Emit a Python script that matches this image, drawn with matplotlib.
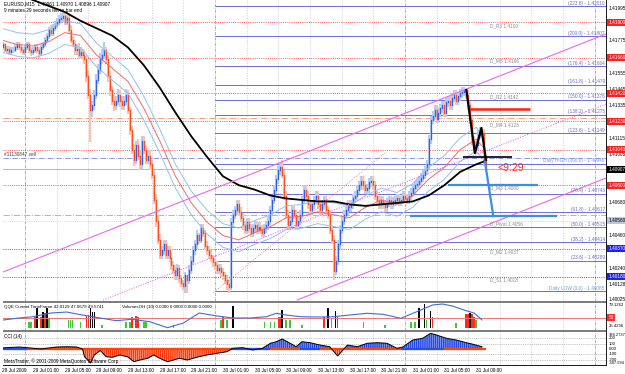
import matplotlib
matplotlib.use("Agg")
import matplotlib.pyplot as plt
from matplotlib.patches import Rectangle

W, H = 625, 374
plt.rcParams["font.family"] = ["Liberation Sans", "DejaVu Sans"]
plt.rcParams["hatch.linewidth"] = 0.45
FS = 3.4

UP, DOWN = "#2F5FE8", "#FF4C1C"
UP_PALE, DOWN_PALE = "#B6CCF6", "#F8C2B0"

# M15 bars numbered from 30 Jul 2009 00:00 (bar 0); prices in pips above 1.40000
first_bar = -107
first_open = 173
closes = [
    175, 171, 172, 170, 171, 171, 173, 175, 173, 171,
    170, 173, 175, 171, 170, 171, 173, 171, 169, 173,
    175, 178, 181, 185, 183, 186, 188, 190, 192, 193,
    194, 190, 193, 185, 178, 175, 171, 172, 168, 170,
    168, 165, 154, 141, 131, 134, 141, 151, 158, 165,
    168, 171, 165, 154, 144, 137, 134, 137, 141, 137,
    134, 137, 141, 131, 117, 104, 97, 107, 100, 94,
    110, 104, 97, 100, 94, 87, 70, 56, 43, 33,
    36, 40, 33, 36, 31, 26, 23, 19, 24, 17,
    14, 12, 19, 16, 23, 29, 36, 40, 46, 43,
    51, 48, 39, 36, 33, 31, 28, 26, 23, 24,
    21, 19, 16, 13, 11,
    55,
    60, 63, 67, 62, 58, 53, 50, 55, 51, 48,
    51, 53, 50, 52, 50, 48, 51, 53, 56, 63,
    70, 77, 84, 90, 92, 87, 73, 60, 53, 56,
    63, 60, 53, 56, 60, 70, 77, 73, 67, 63,
    67, 70, 73, 67, 63, 67, 70, 63, 60, 50,
    43, 22, 29, 40, 50, 56, 60, 63, 67, 65,
    67, 71, 73, 77, 80, 83, 80, 77, 78, 82,
    83, 80, 73, 70, 67, 70, 67, 65, 68, 70,
    67, 69, 70, 71, 69, 70, 73, 71, 70, 73,
    75, 78, 80, 81, 83, 85, 87, 90, 94, 111,
    124, 127, 131, 125, 129, 132, 134, 129, 136, 137,
    134, 139, 141, 137, 140, 142, 143, 144, 141, 134,
    124, 110, 104, 107, 114,
    116, 115, 96, 91,
]
highs = [
    177, 176, 174, 174, 173, 173, 175, 177, 177, 175,
    173, 174, 177, 177, 173, 173, 175, 175, 173, 175,
    177, 180, 183, 187, 188, 189, 191, 193, 195, 196,
    197, 197, 195, 196, 188, 181, 178, 175, 176, 173,
    172, 171, 167, 158, 145, 137, 144, 155, 162, 169,
    172, 177, 173, 168, 157, 147, 141, 140, 145, 144,
    140, 140, 145, 144, 133, 120, 108, 110, 111, 104,
    113, 113, 107, 103, 104, 97, 90, 74, 60, 47,
    39, 43, 43, 39, 39, 34, 29, 26, 27, 26,
    19, 16, 21, 19, 26, 32, 39, 43, 50, 48,
    54, 54, 50, 42, 39, 36, 33, 31, 29, 27,
    27, 24, 21, 19, 16,
    58,
    63, 66, 70, 70, 65, 61, 56, 58, 58, 54,
    54, 56, 56, 55, 55, 53, 54, 56, 59, 66,
    73, 80, 87, 93, 95, 97, 90, 76, 63, 59,
    66, 66, 63, 59, 63, 73, 80, 80, 76, 70,
    70, 73, 76, 76, 70, 70, 73, 73, 66, 63,
    53, 46, 32, 43, 53, 59, 63, 66, 70, 70,
    70, 74, 76, 80, 83, 86, 86, 83, 81, 85,
    86, 86, 83, 76, 73, 73, 73, 70, 71, 73,
    73, 72, 73, 74, 74, 73, 76, 76, 74, 76,
    78, 81, 83, 84, 86, 88, 90, 93, 97, 114,
    127, 130, 134, 134, 132, 135, 137, 137, 139, 140,
    140, 142, 144, 144, 143, 145, 146, 146, 145, 144,
    137, 127, 113, 110, 117,
    119, 119, 118, 97,
]
lows = [
    171, 170, 169, 168, 168, 169, 170, 171, 171, 169,
    168, 168, 171, 169, 167, 168, 169, 169, 166, 167,
    171, 173, 176, 179, 181, 181, 184, 186, 188, 190,
    191, 188, 188, 183, 176, 173, 168, 168, 165, 166,
    165, 162, 150, 138, 109, 126, 131, 138, 148, 155,
    162, 165, 162, 150, 140, 134, 130, 131, 134, 133,
    131, 131, 134, 128, 114, 101, 93, 94, 97, 90,
    91, 101, 94, 94, 90, 84, 67, 52, 40, 30,
    30, 33, 30, 30, 28, 23, 20, 16, 16, 14,
    11, 9, 7, 7, 13, 20, 26, 33, 37, 40,
    41, 45, 36, 33, 30, 28, 25, 23, 20, 20,
    18, 16, 13, 9, 7,
    9,
    52, 57, 60, 59, 55, 50, 47, 47, 48, 45,
    45, 48, 47, 47, 47, 45, 45, 48, 50, 53,
    60, 67, 74, 81, 87, 85, 70, 57, 50, 50,
    53, 57, 50, 50, 53, 57, 67, 70, 64, 60,
    60, 64, 67, 64, 60, 60, 64, 60, 57, 47,
    40, 16, 19, 26, 37, 47, 53, 57, 60, 62,
    62, 64, 68, 70, 74, 77, 77, 74, 74, 75,
    79, 77, 70, 67, 64, 64, 64, 62, 62, 65,
    64, 64, 66, 67, 66, 66, 67, 68, 67, 67,
    70, 72, 75, 77, 78, 80, 82, 84, 87, 91,
    108, 121, 124, 122, 122, 126, 129, 126, 126, 133,
    131, 131, 136, 134, 134, 137, 139, 140, 138, 131,
    121, 107, 102, 101, 104,
    111, 112, 93, 89,
]

ma_bars = list(range(-108, 133, 8)) + [136]
ma_black = [213, 209, 205, 201, 197, 191, 186, 181, 173, 161, 146, 129, 113, 99, 86, 80,
            77, 73, 71, 70, 69, 69, 67, 66, 67, 68, 69, 73, 80, 89, 94, 96]
ma_red = [178, 175, 174, 177, 183, 181, 168, 159, 150, 132, 110, 86, 68, 55, 46, 43,
          48, 52, 58, 59, 62, 60, 58, 65, 70, 67, 73, 84, 92, 104, 111, 105]
ma_blue_hi = [186, 183, 182, 185, 191, 189, 176, 167, 158, 140, 118, 94, 76, 63, 54, 51,
              56, 60, 66, 67, 70, 68, 66, 73, 78, 75, 81, 92, 100, 112, 119, 113]
ma_blue_lo = [170, 167, 166, 169, 175, 173, 160, 151, 142, 124, 102, 78, 60, 47, 38, 35,
              40, 44, 50, 51, 54, 52, 50, 57, 62, 59, 65, 76, 84, 96, 103, 97]

pivot_names = ["D_R3", "D_M5", "D_R2", "D_M4", "D_R1", "D_M3", "D_Pivot", "D_M2", "D_S1"]
pivot_prices = [1.4190, 1.4166, 1.4142, 1.4123, 1.4104, 1.4080, 1.4056, 1.4037, 1.4018]
pivot_colors = ["#FF2020"] * 6 + ["#B9C9DA", "#2020F0", "#2020F0"]

fib_names = ["(223.6)", "(200.0)", "(176.4)", "(161.8)", "(150.0)", "(138.2)", "(123.6)",
             "Daily HIGH (100.0)", "(76.4)", "(61.8)", "(50.0)", "(38.2)", "(23.6)", "Daily LOW (0.0)"]
fib_prices = [1.42010, 1.41807, 1.41604, 1.41479, 1.41376, 1.41275, 1.41149,
              1.40946, 1.40743, 1.40617, 1.40515, 1.40414, 1.40289, 1.40085]

# price scale labels that are not hidden behind a level box
axis_prices = [1.41995, 1.41775, 1.41555, 1.41445, 1.41335, 1.41115, 1.41005,
               1.40680, 1.40460, 1.40240, 1.40128, 1.40025]
bid = 1.40907
order_price, order_sl, order_tp = 1.40985, 1.41252, 1.40595

time_label_bars = list(range(-108, 133, 16))
time_labels = ["28 Jul 2009", "29 Jul 01:00", "29 Jul 05:00", "29 Jul 09:00", "29 Jul 13:00",
               "29 Jul 17:00", "29 Jul 21:00", "30 Jul 01:00", "30 Jul 05:00", "30 Jul 09:00",
               "30 Jul 13:00", "30 Jul 17:00", "30 Jul 21:00", "31 Jul 01:00", "31 Jul 05:00",
               "31 Jul 09:00"]

qqe_bars = [-107, -99, -92, -83, -75, -67, -58, -50, -42, -33, -24, -16, -8, 1, 9, 18, 26,
            31, 36, 43, 52, 60, 68, 77, 85, 94, 102, 110, 115, 120, 127, 131, 135]
qqe = [44.8, 49.1, 51.9, 59.8, 61.9, 55.5, 49.1, 43.3, 46.3, 41.1, 28.2, 38.3, 59.8, 53.4,
       49.1, 49.1, 51.9, 59.2, 55.5, 51.9, 51.2, 51.9, 55.5, 59.2, 57.0, 48.4, 62.6, 77.0,
       79.1, 74.8, 64.7, 59.8, 44.8]

black_vol_bars = [-90, -87, -85, -63, -62, -61, 9, 34, 57, 61, 103, 106, 109, 129]
black_vol = [77, 63, 77, 78, 63, 63, 85, 70, 77, 67, 77, 91, 66, 58]
red_vol_bars = [-91, -88, -86, -65, -64, -42, -40, -39, 4, 32, 33, 55, 62, 110, 127, 128, 130, 131]
red_vol = [45, 45, 58, 51, 51, 43, 47, 43, 45, 45, 45, 45, 45, 45, 55, 55, 55, 45]
green_vol_bars = [-94, -93, -84, -74, -73, -72, -68, -57, -45, -43, -36, -35, -21, 3, 6, 25,
                  28, 30, 36, 38, 44, 59, 75, 86, 99, 101, 107, 122, 132]
green_vol = [26, 26, 40, 32, 32, 32, 26, 13, 26, 26, 26, 26, 13, 32, 32, 26, 26, 26, 32, 32,
             13, 36, 26, 13, 26, 26, 32, 20, 32]

cci_bars = [-108, -99, -88, -80, -75, -70, -67, -66, -63, -61, -58, -55, -52, -48, -44, -41,
            -38, -34, -31, -28, -24, -21, -18, -14, -11, -8, -4, 1, 6, 9, 14, 19, 24, 28, 31,
            34, 38, 41, 44, 48, 53, 58, 62, 67, 72, 77, 82, 87, 92, 95, 100, 105, 109, 112,
            117, 122, 127, 130, 135]
cci = [19, 38, 0, 38, 43, 38, 0, -145, -264, -113, -28, -145, -157, -113, -151, -240, -208,
       -175, -113, -175, -240, -208, -175, -208, -175, -145, -113, -81, -51, 13, 25, -19, 13,
       108, 138, 189, 108, 43, 138, 119, 75, 43, -132, 75, 43, 108, 119, 108, 13, 38, 170,
       202, 296, 264, 202, 170, 119, 94, 43]
band_starts = [-107, -95, 8, 28, 43, 53, 94, 116]
band_ends = [-95, 8, 28, 43, 53, 94, 116, 137]
band_colors = ["#2850E8", "#FF4500", "#2850E8", "#FF4500", "#2850E8", "#FF4500", "#2850E8", "#FF4500"]

XMIN, XMAX = -107.2, 197.7


def rect(x0, y0, x1, y1):
    return [x0 / W, 1 - y1 / H, (x1 - x0) / W, (y1 - y0) / H]


def price(p):
    return 1.4 + p / 10000.0


def bare(ax):
    ax.set_xlim(XMIN, XMAX)
    ax.set_xticks([])
    ax.set_yticks([])
    for s in ax.spines.values():
        s.set_visible(False)


def vgrid(ax):
    for b in range(-96, 197, 16):
        if b % 96 == 0:
            ax.axvline(b, color="#8C8C8C", lw=0.5, ls=(0, (4, 1.5, 1, 1.5)), zorder=0.5)
        else:
            ax.axvline(b, color="#C4C4C4", lw=0.45, ls=(0, (2, 2)), zorder=0.5)


def right_label(ax, y, text, fc=None, tc="black", size=FS):
    kw = dict(xycoords=("axes fraction", "data"), fontsize=size, va="center", ha="left",
              color=tc, annotation_clip=False, zorder=10)
    if fc:
        kw["bbox"] = dict(boxstyle="square,pad=0.2", fc=fc, ec="none")
    ax.annotate(text, (1.004, y), **kw)


fig = plt.figure(figsize=(W / 100, H / 100), dpi=100, facecolor="white")

# ---------------- main price window ----------------
ax = fig.add_axes(rect(3, 0, 606, 301))
bare(ax)
ax.set_ylim(1.400175, 1.420505)
vgrid(ax)

for name, p, col in zip(pivot_names, pivot_prices, pivot_colors):
    ax.axhline(p, color=col, lw=0.6, ls=(0, (1, 1.6)), zorder=1)
    if name != "D_R1":
        ax.text(139, p - 0.00004, f"{name} {p:.4f}", fontsize=FS, color="#8A8A8A", va="top", zorder=6)
ax.axhline(order_price, color="#7A86D8", lw=0.6, ls="-.", zorder=1)
ax.axhline(order_sl, color="#F4A07E", lw=0.7, ls="-.", zorder=1)
ax.axhline(order_tp, color="#F4A07E", lw=0.7, ls="-.", zorder=1)
ax.axhline(bid, color="#9A9A9A", lw=0.5, zorder=1)
ax.text(-106.5, order_price + 0.00003, "#11130847 sell", fontsize=FS, color="#404040", va="bottom", zorder=6)

ax.hlines(fib_prices, 0, XMAX, color="#6C6CD4", lw=0.7, zorder=1)
for name, p in zip(fib_names, fib_prices):
    col = "#6F9BE8" if "Daily" in name else "#6C6CC8"
    ax.text(XMAX - 0.6, p + 0.00003, f"{name} - {p:.5f}", fontsize=FS, color=col,
            ha="right", va="bottom", zorder=6)

# candles
bars = list(range(first_bar, first_bar + len(closes)))
opens = [first_open] + closes[:-1]
up = [c >= o for o, c in zip(opens, closes)]
ax.vlines(bars, [price(v) for v in lows], [price(v) for v in highs],
          colors=[UP_PALE if u else DOWN_PALE for u in up], lw=1.6, zorder=2)
body = ax.vlines(bars, [price(min(o, c)) for o, c in zip(opens, closes)],
                 [price(max(o, c)) for o, c in zip(opens, closes)],
                 colors=[UP if u else DOWN for u in up], lw=0.9, zorder=2.5)
body.set_capstyle("projecting")

ax.plot(ma_bars, [price(v) for v in ma_blue_hi], color="#93C2F2", lw=0.7, zorder=3)
ax.plot(ma_bars, [price(v) for v in ma_blue_lo], color="#93C2F2", lw=0.7, zorder=3)
ax.plot(ma_bars, [price(v) for v in ma_red], color="#F26A6A", lw=0.7, zorder=3)
ax.plot(ma_bars, [price(v) for v in ma_black], color="black", lw=1.3, zorder=3.2)

# trend channel
ax.plot([XMIN, XMAX], [1.40213, 1.41821], color="#EE66EE", lw=0.8, zorder=4)
ax.plot([41.5, XMAX], [1.40024, 1.40848], color="#EE66EE", lw=0.8, zorder=4)
ax.plot([-56.6, XMAX], [1.40024, 1.41348], color="#EE66EE", lw=0.7, ls=(0, (1.2, 1.4)), zorder=4)
ax.plot([-1, 86], [1.40072, 1.41018], color="#F07070", lw=0.6, ls=(0, (1, 1.6)), zorder=4)

# hand-drawn analysis lines
ax.plot([127.1, 131.4, 134.7, 137.0], [1.41443, 1.41017, 1.41186, 1.40970], color="black", lw=1.6, zorder=5)
ax.hlines(1.40988, 125.4, 150.2, color="black", lw=1.2, zorder=5)
ax.hlines(1.41314, 128.9, 159.3, color="#FF2010", lw=1.8, zorder=5)
ax.hlines(1.40801, 117.8, 163.3, color="#3B8EE3", lw=1.6, zorder=5)
ax.hlines(1.40594, 98.6, 172.9, color="#3B8EE3", lw=1.6, zorder=5)
ax.plot([136.5, 140.7], [1.40958, 1.40592], color="#3B8EE3", lw=1.6, zorder=5)
ax.text(143, 1.40915, "<9:29", fontsize=7.5, color="#FF2A2A", va="center", ha="left", zorder=6)

ax.text(0.001, 0.997, "EURUSD,M15  1.40961 1.40970 1.40896 1.40907", transform=ax.transAxes,
        fontsize=FS, va="top", zorder=6)
ax.text(0.001, 0.973, "9 minutes 29 seconds left to bar end", transform=ax.transAxes,
        fontsize=FS, va="top", zorder=6)

for p in axis_prices:
    right_label(ax, p, f"{p:.5f}")
for p, col in zip(pivot_prices, pivot_colors):
    right_label(ax, p, f"{p:.5f}", fc=col, tc="black" if col == "#B9C9DA" else "white")
right_label(ax, bid, f"{bid:.5f}", fc="black", tc="white")

# ---------------- QQE / volumes window ----------------
qv = fig.add_axes(rect(3, 303, 606, 330))
bare(qv)
qv.set_ylim(-5.7, 96.2)
vgrid(qv)
qv.bar(green_vol_bars, green_vol, width=0.8, color="#3CC83C", zorder=2)
qv.bar(red_vol_bars, red_vol, width=0.8, color="#FF2A1A", zorder=2)
qv.bar(black_vol_bars, black_vol, width=0.8, color="black", zorder=2)

q = fig.add_axes(rect(3, 303, 606, 330))
bare(q)
q.patch.set_alpha(0)
q.set_ylim(23.3, 81.3)
q.axhline(50, color="#F07474", lw=0.7, zorder=1)
q.plot(qqe_bars, qqe, color="#3A6FD8", lw=0.8, zorder=3)
q.text(0.001, 0.93, "QQE Current TimeFrame 42.0129 47.0679 49.5741", transform=q.transAxes,
       fontsize=3.2, va="top")
q.text(0.197, 0.93, "VolumesOH (10) 0.0000 0.0000 0.0000 0.0000", transform=q.transAxes,
       fontsize=3.2, va="top")
right_label(q, 77.5, "79.1262", size=3.1)
right_label(q, 31.0, "25.4236", size=3.1)
right_label(q, 50, "50", fc="#FF2A2A", tc="white")

# ---------------- CCI window ----------------
c = fig.add_axes(rect(3, 332, 606, 365))
bare(c)
c.set_ylim(-302, 321)
vgrid(c)
for lv in (200, 100, -100, -200):
    c.axhline(lv, color="#9A9A9A", lw=0.45, ls=(0, (1.5, 1.5)), zorder=1)
c.fill_between(cci_bars, 0, cci, where=[v >= 0 for v in cci], interpolate=True,
               facecolor="#2347E6", edgecolor="#A8BAF5", hatch="|" * 8, lw=0, zorder=2)
c.fill_between(cci_bars, 0, cci, where=[v <= 0 for v in cci], interpolate=True,
               facecolor="#FF3A10", edgecolor="#FFB4A0", hatch="|" * 8, lw=0, zorder=2)
c.fill_between(cci_bars, -250, cci, where=[v <= -250 for v in cci], interpolate=True,
               facecolor="#FFE800", lw=0, zorder=2.2)
for s, e, col in zip(band_starts, band_ends, band_colors):
    c.hlines(0, s, e, color=col, lw=1.7, zorder=2.5)
c.plot(cci_bars, cci, color="black", lw=0.7, zorder=3)
c.text(0.001, 0.93, "CCI (14)", transform=c.transAxes, fontsize=FS, va="top")
c.text(0.001, 0.04, "MetaTrader, \u00a9 2001-2009 MetaQuotes Software Corp.", transform=c.transAxes,
       fontsize=FS, va="bottom", zorder=6)
right_label(c, 272, "328.2737", size=2.9)
for lv, t in ((200, "200"), (100, "100"), (0, "0.00"), (-100, "-100"), (-200, "-200")):
    right_label(c, lv, t, size=3.1)
right_label(c, -262, "-387.594", size=2.9)

# frames and separators
for y0, y1, col in ((301, 303, "#7E7E7E"), (330, 332, "#7E7E7E"), (365, 366, "#202020")):
    fig.add_artist(Rectangle((3 / W, 1 - y1 / H), 603 / W, (y1 - y0) / H, transform=fig.transFigure,
                             facecolor=col, edgecolor="none"))
for x in (2.5, 606):
    fig.add_artist(Rectangle((x / W, 1 - 366 / H), 0.8 / W, 366 / H, transform=fig.transFigure,
                             facecolor="#202020", edgecolor="none"))

for b, t in zip(time_label_bars, time_labels):
    xp = 215 + 1.978 * b
    fig.text(max(xp, 2) / W, 1 - 370 / H, t, fontsize=FS, va="center", ha="left")

fig.savefig("out.png", dpi=100, facecolor="white")
